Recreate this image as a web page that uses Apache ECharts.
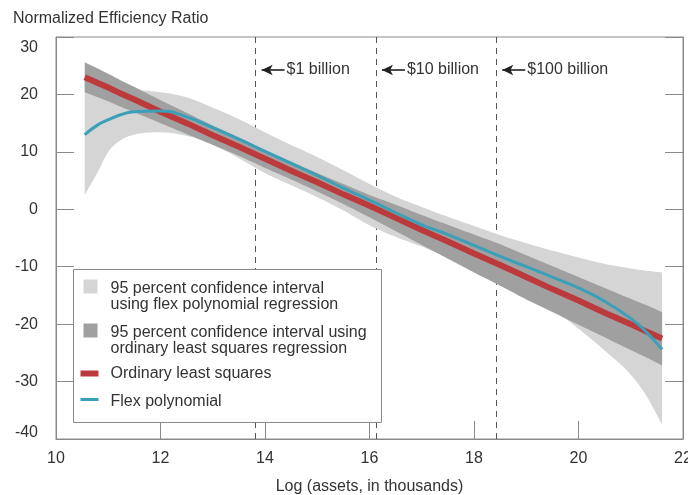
<!DOCTYPE html>
<html>
<head>
<meta charset="utf-8">
<script src="https://cdn.jsdelivr.net/npm/echarts@6/dist/echarts.min.js"></script>
<style>
  html, body { margin: 0; padding: 0; background: #fff; }
  #chart { width: 688px; height: 495px; }
</style>
</head>
<body>
<div id="chart"></div>
<script>
// Log of bank assets (in thousands) at which each curve is sampled
const logAssets = [10.55, 10.8, 11.0, 11.25, 11.5, 12.0, 12.5, 13.0, 13.5, 14.0, 14.5, 15.0, 15.5, 16.0, 16.5, 17.0, 17.5, 18.0, 18.5, 19.0, 19.5, 20.0, 20.5, 21.0, 21.3, 21.6];

// Ordinary least squares fit and its 95 percent confidence interval
const olsFit   = [23.0, 22.0, 21.2, 20.1, 19.1, 17.0, 15.0, 12.9, 10.9, 8.8, 6.7, 4.7, 2.6, 0.6, -1.5, -3.6, -5.6, -7.7, -9.7, -11.8, -13.9, -15.9, -18.0, -20.0, -21.3, -22.5];
const olsLower = [20.4, 19.5, 18.8, 17.8, 16.9, 15.0, 13.1, 11.2, 9.3, 7.2, 5.2, 3.1, 0.9, -1.4, -3.8, -6.2, -8.6, -11.0, -13.3, -15.7, -17.9, -20.1, -22.3, -24.5, -25.8, -27.2];
const olsUpper = [25.6, 24.5, 23.6, 22.4, 21.3, 19.0, 16.8, 14.6, 12.5, 10.3, 8.3, 6.3, 4.4, 2.5, 0.8, -1.0, -2.7, -4.4, -6.1, -8.0, -9.9, -11.8, -13.7, -15.6, -16.7, -17.9];

// Flex polynomial fit and its 95 percent confidence interval
const flexFit   = [13.0, 14.7, 15.6, 16.5, 17.0, 17.1, 16.1, 14.2, 12.2, 10.1, 8.0, 5.9, 3.7, 1.6, -0.6, -2.7, -4.4, -6.3, -8.2, -10.0, -11.8, -13.7, -16.0, -19.0, -21.4, -24.4];
const flexLower = [2.5, 6.5, 10.0, 12.1, 13.0, 13.4, 12.8, 11.3, 8.9, 6.3, 4.2, 2.1, -0.2, -2.8, -4.8, -6.5, -8.3, -10.3, -12.4, -14.6, -17.4, -20.8, -24.6, -28.8, -32.5, -37.5];
const flexUpper = [23.0, 22.3, 21.8, 21.3, 20.9, 20.4, 19.5, 17.7, 15.7, 13.4, 11.2, 9.1, 6.8, 4.4, 2.2, 0.4, -1.3, -2.9, -4.5, -5.9, -7.2, -8.4, -9.5, -10.3, -10.7, -11.0];

// Asset-size thresholds: ln(1e6), ln(1e7), ln(1e8) thousand dollars
const sizeThresholds = [13.8155, 16.1181, 18.4207];
const thresholdLabels = ['$1 billion', '$10 billion', '$100 billion'];
const thresholdLabelY = 24.25;

// Axis ticks
const xTicks = { min: 10, max: 22, step: 2 };
const yTicks = { min: -40, max: 30, step: 10 };

const legendNames = [
  '95 percent confidence interval\nusing flex polynomial regression',
  '95 percent confidence interval using\nordinary least squares regression',
  'Ordinary least squares',
  'Flex polynomial'
];

const FONT = '"Liberation Sans", Arial, Helvetica, sans-serif';
const TEXT = '#333333';
const FRAME = '#8a8a8a';
const LIGHT_BAND = '#d5d5d5';
const DARK_BAND = '#a0a0a0';
const OLS_RED = '#bd3a3c';
const FLEX_CYAN = '#3a9fb9';

const chart = echarts.init(document.getElementById('chart'), null, { renderer: 'canvas' });

function pairs(ys) {
  return logAssets.map((x, i) => [x, ys[i]]);
}

// Smooth outline through pixel points (cubic Hermite in x, x increasing)
function smoothEdge(pts) {
  const n = pts.length;
  const slope = (a, b) => (pts[b][1] - pts[a][1]) / (pts[b][0] - pts[a][0]);
  const m = pts.map((p, i) => {
    if (i === 0) return slope(0, 1);
    if (i === n - 1) return slope(n - 2, n - 1);
    return (slope(i - 1, i) + slope(i, i + 1)) / 2;
  });
  const out = [pts[0]];
  const steps = 10;
  for (let i = 0; i < n - 1; i++) {
    const h = pts[i + 1][0] - pts[i][0];
    for (let s = 1; s <= steps; s++) {
      const t = s / steps, t2 = t * t, t3 = t2 * t;
      const y = (2 * t3 - 3 * t2 + 1) * pts[i][1] + (t3 - 2 * t2 + t) * h * m[i]
              + (-2 * t3 + 3 * t2) * pts[i + 1][1] + (t3 - t2) * h * m[i + 1];
      out.push([pts[i][0] + h * t, y]);
    }
  }
  return out;
}

// Confidence band drawn as one filled shape through the axis scales
function band(name, lower, upper, color) {
  return {
    type: 'custom',
    name: name,
    silent: true,
    z: 2,
    data: logAssets.map((x, i) => [x, lower[i], upper[i]]),
    encode: { x: 0, y: [1, 2] },
    renderItem: function (params, api) {
      if (params.dataIndex !== 0) return null;
      const top = smoothEdge(logAssets.map((x, i) => api.coord([x, upper[i]])));
      const bottom = smoothEdge(logAssets.map((x, i) => api.coord([x, lower[i]])));
      return { type: 'polygon', shape: { points: top.concat(bottom.reverse()) }, style: { fill: color } };
    }
  };
}

function yLabel(v) {
  if (v === yTicks.max) return '{top|' + v + '}';
  if (v === yTicks.min) return '{bot|' + v + '}';
  return '{n|' + v + '}';
}

const labelText = { fontFamily: FONT, fontSize: 16, color: TEXT };

const yAxisBase = {
  type: 'value',
  min: yTicks.min,
  max: yTicks.max,
  interval: yTicks.step,
  splitLine: { show: false },
  axisLine: { show: true, onZero: false, lineStyle: { color: FRAME, width: 1 } },
  axisTick: { show: true, inside: true, length: 18, lineStyle: { color: FRAME, width: 1 } }
};

const legendItem = (el) => Object.assign({ z: 100 }, el);

const option = {
  animation: false,
  backgroundColor: '#ffffff',
  title: {
    text: 'Normalized Efficiency Ratio',
    left: 8,
    top: 6,
    textStyle: { fontFamily: FONT, fontSize: 16, fontWeight: 'normal', color: TEXT }
  },
  grid: {
    left: 56, right: 5, top: 37, bottom: 56,
    outerBoundsMode: 'none',
    containLabel: false,
    show: true, borderColor: FRAME, borderWidth: 1, backgroundColor: 'transparent'
  },
  xAxis: {
    type: 'value',
    min: xTicks.min,
    max: xTicks.max,
    interval: xTicks.step,
    name: 'Log (assets, in thousands)',
    nameLocation: 'middle',
    nameGap: 40,
    nameTextStyle: labelText,
    splitLine: { show: false },
    axisLine: { show: true, onZero: false, lineStyle: { color: FRAME, width: 1 } },
    axisTick: { show: true, inside: true, length: 18, lineStyle: { color: FRAME, width: 1 } },
    axisLabel: Object.assign({ margin: 12, showMaxLabel: true }, labelText)
  },
  yAxis: [
    Object.assign({}, yAxisBase, {
      position: 'left',
      axisLabel: {
        margin: 18,
        formatter: yLabel,
        rich: {
          n: labelText,
          top: Object.assign({ padding: [22, 0, 0, 0] }, labelText),
          bot: Object.assign({ padding: [0, 0, 13, 0] }, labelText)
        }
      }
    }),
    Object.assign({}, yAxisBase, {
      position: 'right',
      axisLabel: { show: false }
    })
  ],
  series: [
    {
      // vertical dashed asset-size thresholds, kept beneath the bands
      type: 'line',
      name: 'thresholds',
      data: [],
      z: 1,
      silent: true,
      markLine: {
        silent: true,
        z: 1,
        animation: false,
        symbol: 'none',
        data: sizeThresholds.map(v => ({
          xAxis: v,
          lineStyle: { type: [6, 5], color: '#555555', width: 1 },
          label: { show: false }
        }))
      }
    },
    band(legendNames[0], flexLower, flexUpper, LIGHT_BAND),
    band(legendNames[1], olsLower, olsUpper, DARK_BAND),
    {
      type: 'line',
      name: legendNames[2],
      data: pairs(olsFit),
      symbol: 'none',
      z: 3,
      lineStyle: { color: OLS_RED, width: 6 },
      silent: true,
      markLine: {
        silent: true,
        animation: false,
        symbol: 'none',
        data: sizeThresholds.map((v, i) => [
          {
            coord: [v + 0.12, thresholdLabelY],
            symbol: 'arrow',
            symbolSize: [8, 11],
            lineStyle: { type: 'solid', color: '#222222', width: 1.6 },
            label: {
              show: true,
              position: 'end',
              distance: 2,
              formatter: thresholdLabels[i],
              fontFamily: FONT,
              fontSize: 16,
              color: TEXT
            }
          },
          { coord: [v + 0.56, thresholdLabelY], symbol: 'none' }
        ])
      }
    },
    {
      type: 'line',
      name: legendNames[3],
      data: pairs(flexFit),
      smooth: true,
      symbol: 'none',
      z: 4,
      lineStyle: { color: FLEX_CYAN, width: 3 },
      silent: true
    }
  ],
  graphic: [
    {
      type: 'group',
      left: 73,
      top: 269,
      z: 100,
      children: [
        legendItem({ type: 'rect', shape: { x: 0, y: 0, width: 308, height: 153 }, style: { fill: '#ffffff', stroke: FRAME, lineWidth: 1 } }),
        legendItem({ type: 'rect', shape: { x: 10, y: 10, width: 14, height: 14 }, style: { fill: LIGHT_BAND } }),
        legendItem({ type: 'text', x: 37, y: 11, style: { text: legendNames[0], font: '16px ' + FONT, fill: TEXT, lineHeight: 16, verticalAlign: 'top' } }),
        legendItem({ type: 'rect', shape: { x: 10, y: 54, width: 14, height: 14 }, style: { fill: DARK_BAND } }),
        legendItem({ type: 'text', x: 37, y: 55, style: { text: legendNames[1], font: '16px ' + FONT, fill: TEXT, lineHeight: 16, verticalAlign: 'top' } }),
        legendItem({ type: 'line', shape: { x1: 7, y1: 104, x2: 25, y2: 104 }, style: { stroke: OLS_RED, lineWidth: 6 } }),
        legendItem({ type: 'text', x: 37, y: 104, style: { text: legendNames[2], font: '16px ' + FONT, fill: TEXT, verticalAlign: 'middle' } }),
        legendItem({ type: 'line', shape: { x1: 7, y1: 130, x2: 25, y2: 130 }, style: { stroke: FLEX_CYAN, lineWidth: 3 } }),
        legendItem({ type: 'text', x: 37, y: 132, style: { text: legendNames[3], font: '16px ' + FONT, fill: TEXT, verticalAlign: 'middle' } })
      ]
    }
  ]
};

chart.setOption(option);
</script>
</body>
</html>
